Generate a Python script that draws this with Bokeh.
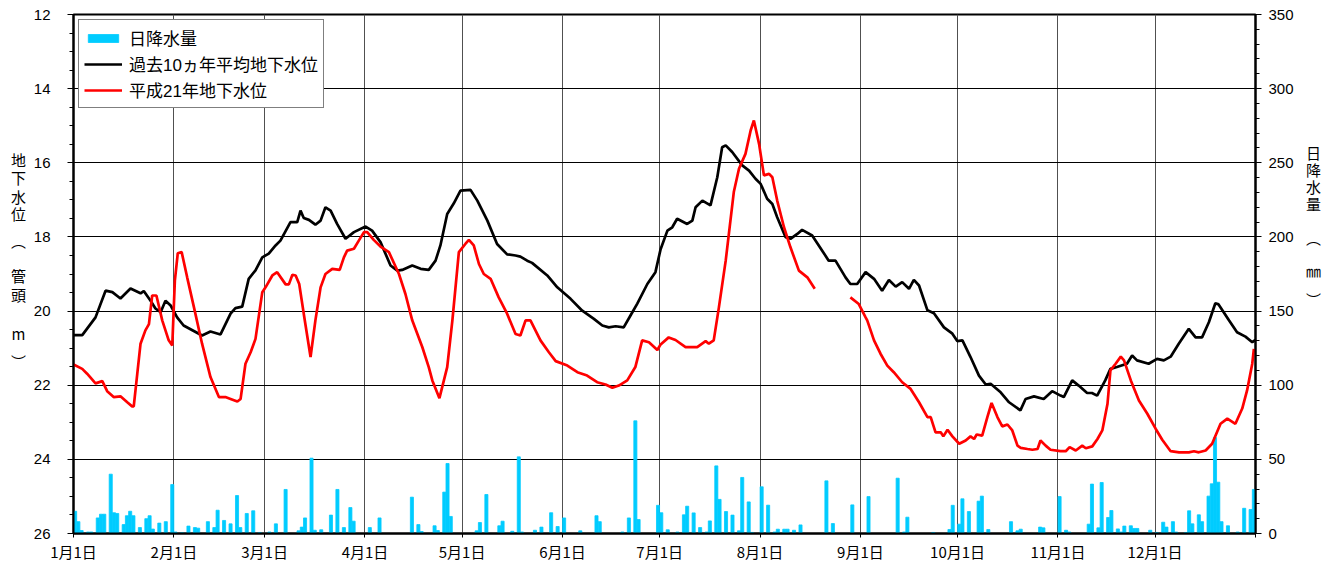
from bokeh.plotting import figure
from bokeh.layouts import row
from bokeh.models import (Range1d, LinearAxis, FixedTicker, Legend, LegendItem,
                          ColumnDataSource)
from bokeh.core.properties import value
from bokeh.embed import file_html
from bokeh.resources import INLINE

# ---------------- data ----------------
month_starts = [0, 31, 59, 90, 120, 151, 181, 212, 243, 273, 304, 334]
month_labels = ["1月1日", "2月1日", "3月1日", "4月1日", "5月1日", "6月1日",
                "7月1日", "8月1日", "9月1日", "10月1日", "11月1日", "12月1日"]

level_ticks = [12, 14, 16, 18, 20, 22, 24, 26]
rain_ticks = [0, 50, 100, 150, 200, 250, 300, 350]

left_title_chars = ["地", "下", "水", "位", "︵", "管", "頭", "m", "︶"]
right_title_chars = ["日", "降", "水", "量", "︵", "㎜", "︶"]

# daily rainfall (day index from Jan 1, mm)
rain_days = [0, 1, 2, 4, 5, 7, 8, 9, 11, 12, 13, 15, 16, 17, 18, 20, 22, 23, 24, 26,
             28, 30, 31, 33, 35, 37, 38, 41, 43, 44, 46, 48, 50, 51, 53, 55, 57, 60,
             62, 65, 69, 70, 71, 73, 74, 76, 79, 81, 83, 85, 86, 91, 94, 104, 106,
             107, 111, 112, 114, 115, 116, 124, 125, 127, 131, 132, 135, 137, 138,
             142, 144, 147, 149, 151, 156, 161, 162, 169, 171, 173, 174, 180, 181,
             183, 186, 188, 189, 191, 193, 195, 196, 198, 199, 201, 203, 205, 206,
             208, 209, 212, 214, 216, 217, 219, 220, 222, 224, 232, 234, 240, 245,
             254, 256, 257, 265, 270, 271, 273, 274, 276, 279, 280, 282, 289, 291,
             292, 298, 299, 304, 306, 307, 313, 314, 316, 317, 319, 320, 322, 323,
             324, 326, 327, 328, 332, 334, 336, 337, 339, 340, 343, 344, 345, 347,
             348, 350, 351, 352, 353, 354, 356, 359, 361, 363, 364]
rain_mm = [15, 8, 2, 1, 1, 10.5, 13, 13, 40, 14, 13.5, 6, 12, 15, 12, 4, 10, 12, 3, 7,
           8, 33, 1, 0.5, 5, 4, 3.6, 8, 4, 15.7, 8.8, 6.5, 25.6, 4, 13.5, 15.3, 0.7, 1,
           6.5, 29.7, 1.8, 4.3, 10.5, 50.8, 2.2, 2.5, 12.4, 29.7, 4, 17.5, 8.3, 4, 10.5, 24.5, 6,
           1.3, 5.2, 2, 27.9, 47.2, 11.5, 1.8, 7.4, 26.3, 5.2, 8.3, 1.5, 51.7, 1,
           2.2, 4.3, 14, 4.7, 10.5, 1.8, 12, 8, 1, 10.5, 76, 9.4, 19, 14,
           2.5, 1, 12.6, 18.4, 13.9, 4, 1, 8.5, 45.6, 23, 14.8, 12.4, 1.8, 37.8,
           21.3, 0.7, 31.5, 19.1, 1, 2.9, 2.9, 2.9, 2.2, 5.8, 35.5, 6.7, 19.3, 24.9,
           37.3, 1, 11, 0.7, 2.7, 19, 6.3, 23.4, 14.8, 21.8, 25.2, 2.7, 8, 1.8,
           2.9, 4.3, 3.8, 24.9, 2.2, 1, 6.3, 33.3, 3.8, 34.4, 10.8, 15.5, 3.1, 1,
           5, 5.2, 3.4, 3.4, 2.2, 0.7, 7.6, 4.3, 8, 1, 0.7, 15.3, 6.5, 12.6,
           8, 25.2, 33.5, 64.7, 34.6, 8, 5.2, 1, 17, 16.2, 29.7]

# 10-year average groundwater level (m below well head)
avg_days = [0, 2.7, 6.8, 9.9, 12, 14.5, 17.6, 20.7, 21.7, 23.8, 25.3, 26.9, 28.4, 30,
            32, 34, 37, 39.7, 42.3, 45.4, 48.5, 50, 52.1, 54.1, 56.2, 58.3, 60.3,
            62.4, 63.9, 67, 69.1, 70.1, 71.1, 72.7, 74.7, 76.3, 77.8, 79.4, 81.4,
            84, 86.6, 90.2, 92.2, 94.8, 97.9, 100, 101.5, 104.6, 107.2, 109.7,
            111.8, 113.3, 115.4, 117.4, 119.5, 122.6, 124.7, 127.8, 130.8, 133.9,
            136.5, 138, 140.1, 141.6, 146.3, 149.4, 153.5, 157.1, 160.7, 163.3,
            165.3, 167.4, 169.9, 172, 174.1, 177.2, 179.7, 181.3, 183.4, 184.9,
            186.4, 189.5, 191.1, 192.1, 194.2, 196.7, 198.8, 200.3, 201.4, 203.4,
            206.5, 208.6, 210.6, 212.2, 214.2, 215.8, 217.3, 219.9, 221.4, 223.5,
            225, 228.1, 231.2, 233.2, 235.3, 238.4, 239.9, 242, 244.6, 247.2,
            249.7, 251.8, 253.9, 255.9, 258, 259.5, 261.1, 263.7, 265.7, 268.8,
            271.4, 272.9, 274.5, 277, 279.6, 281.7, 283.2, 286.3, 288.9, 292.4,
            294, 296.6, 299.6, 302.2, 304.8, 305.8, 308.4, 310.4, 313, 314.5,
            316.1, 318.6, 320.2, 322.2, 325.3, 326.9, 328.4, 332, 334.6, 336.7,
            338.8, 341.3, 344.4, 346.5, 348.5, 350.6, 352.6, 353.6, 356.8, 359.3,
            361.9, 364, 365]
avg_level = [20.65, 20.65, 20.17, 19.45, 19.49, 19.66, 19.39, 19.52, 19.46, 19.72,
             19.93, 20.03, 19.72, 19.85, 20.17, 20.39, 20.53, 20.66, 20.55, 20.63,
             20.07, 19.92, 19.88, 19.13, 18.9, 18.55, 18.45, 18.23, 18.1, 17.6,
             17.6, 17.29, 17.49, 17.54, 17.67, 17.56, 17.2, 17.29, 17.65, 18.05,
             17.87, 17.72, 17.83, 18.14, 18.77, 18.91, 18.89, 18.77, 18.86, 18.89,
             18.64, 18.23, 17.38, 17.1, 16.75, 16.73, 17.02, 17.56, 18.19, 18.47,
             18.5, 18.53, 18.64, 18.7, 19.04, 19.36, 19.67, 19.99, 20.21, 20.39,
             20.44, 20.41, 20.44, 20.12, 19.8, 19.27, 18.95, 18.33, 17.83, 17.74,
             17.51, 17.65, 17.56, 17.2, 17.02, 17.15, 16.39, 15.58, 15.53, 15.71,
             16.07, 16.21, 16.43, 16.57, 16.97, 17.11, 17.47, 18.01, 18.05, 17.92,
             17.81, 17.96, 18.37, 18.64, 18.64, 19.09, 19.27, 19.27, 18.95, 19.13,
             19.45, 19.16, 19.34, 19.22, 19.4, 19.16, 19.31, 19.98, 20.06, 20.44,
             20.61, 20.81, 20.79, 21.24, 21.74, 21.98, 21.96, 22.19, 22.46, 22.68,
             22.37, 22.3, 22.37, 22.16, 22.28, 22.32, 21.87, 22.01, 22.21, 22.21,
             22.28, 21.87, 21.56, 21.51, 21.42, 21.2, 21.33, 21.42, 21.29, 21.33,
             21.23, 20.88, 20.48, 20.71, 20.71, 20.3, 19.79, 19.82, 20.25, 20.57,
             20.69, 20.84, 20.78]

# 2009 (Heisei 21) groundwater level; NaN = missing
h21_days = [0, 2.7, 4.2, 6.8, 8.9, 10.4, 12.4, 14.5, 16.6, 18.1, 18.6, 19.7, 20.7,
            22.2, 23.3, 24.3, 25.6, 27.4, 29.4, 30.5, 31.3, 32.2, 33.4, 35.1, 37.2,
            39.7, 42.3, 44.9, 46.9, 48.5, 50.6, 51.6, 53.1, 54.7, 56.2, 58.3, 59.3,
            61.4, 62.9, 65.5, 66.5, 67.6, 68.6, 69.7, 71.1, 73.2, 74.7, 76.3, 77.8,
            79.9, 82.2, 83.5, 84.5, 86.6, 88.1, 89.7, 90.7, 92.7, 94.8, 97.4, 100.5,
            102.5, 104.6, 107.7, 109.7, 110.8, 113, 115.4, 117, 119, 121, 122.1,
            123.6, 125.2, 126.7, 128.8, 131.3, 133.9, 136.5, 138, 139.6, 141.1,
            144.2, 146.8, 148.9, 152.5, 155.6, 158.6, 161.7, 164.3, 166.4, 168.4,
            171, 173.5, 175.6, 177.7, 180.3, 181.3, 183.8, 185.9, 189, 192.6, 195.2,
            196.2, 197.7, 199.3, 201.4, 203.9, 205.5, 207.5, 209.1, 210.1, 211.7,
            213.2, 214.8, 215.8, 217.3, 219.4, 221.4, 224, 226.6, 228.9, 234,
            239.9, 242.5, 244.6, 245.1, 247.2, 249.2, 251.3, 253.3, 255.9, 258.5,
            261.1, 263.7, 264.7, 266.2, 267.8, 268.6, 269.9, 271.4, 273.5, 275.5,
            277, 278.1, 278.9, 280.6, 282.2, 283.5, 285.3, 286.8, 288.4, 289.9,
            291.5, 292.5, 294.6, 296.1, 297.7, 298.6, 300.2, 301.7, 304.8, 306.4,
            307.6, 309.5, 311.5, 312.6, 314.6, 316.2, 317.7, 319.3, 320.2, 321.8,
            323.4, 324.4, 326.5, 329, 331.6, 334.2, 336.2, 338.8, 341.4, 344.4,
            346, 347.5, 349.6, 351.6, 354.2, 356.3, 358.8, 360.9, 362.4, 364, 364.5]
h21_level = [21.44, 21.56, 21.69, 21.95, 21.89, 22.16, 22.32, 22.3, 22.46, 22.57,
             22.57, 21.69, 20.88, 20.52, 20.35, 19.58, 19.58, 20.25, 20.79, 20.93,
             19.18, 18.44, 18.41, 19.09, 19.9, 20.88, 21.78, 22.32, 22.32, 22.37,
             22.44, 22.37, 21.42, 21.11, 20.75, 19.49, 19.36, 19.04, 18.95, 19.28,
             19.28, 19.02, 19.04, 19.27, 20.07, 21.24, 20.25, 19.36, 19.0, 18.86,
             18.89, 18.55, 18.37, 18.32, 18.1, 17.87, 17.87, 18.08, 18.26, 18.41,
             19.0, 19.54, 20.25, 20.97, 21.51, 21.87, 22.35, 21.51, 20.25, 18.41,
             18.19, 18.08, 18.23, 18.73, 19.0, 19.13, 19.63, 20.07, 20.62, 20.66,
             20.25, 20.25, 20.79, 21.11, 21.35, 21.47, 21.65, 21.74, 21.92, 21.98,
             22.07, 22.01, 21.87, 21.51, 20.79, 20.84, 21.05, 20.9, 20.71, 20.78,
             20.97, 20.97, 20.81, 20.88, 20.79, 19.9, 18.64, 16.79, 16.16, 15.76,
             15.13, 14.86, 15.49, 16.34, 16.3, 16.39, 17.02, 17.74, 18.28, 18.91,
             19.09, 19.4, float("nan"),
             19.63, 19.81, 20.17, 20.25, 20.79, 21.15, 21.47, 21.65, 21.92, 22.1,
             22.46, 22.86, 22.86, 23.27, 23.27, 23.38, 23.2, 23.38, 23.58, 23.49,
             23.38, 23.45, 23.33, 23.36, 22.86, 22.48, 22.86, 23.11, 23.06, 23.22,
             23.63, 23.69, 23.72, 23.74, 23.72, 23.49, 23.63, 23.74, 23.78, 23.78,
             23.67, 23.76, 23.63, 23.7, 23.65, 23.45, 23.22, 22.5, 21.6, 21.42,
             21.23, 21.33, 21.87, 22.41, 22.77, 23.18, 23.47, 23.78, 23.81, 23.81,
             23.78, 23.81, 23.76, 23.58, 23.04, 22.9, 23.04, 22.63, 22.14, 21.42,
             21.02]

# ---------------- figure ----------------
JP = "Noto Sans CJK JP"
NUM = "Liberation Sans"
H = 566
LEFT_W = 30
RIGHT_W = 27
MAIN_W = 1270

p = figure(width=MAIN_W, height=H, output_backend="svg", toolbar_location=None,
           x_range=Range1d(0, 365), y_range=Range1d(26, 12),
           min_border_left=43, min_border_right=45, min_border_top=14,
           min_border_bottom=33, background_fill_color="white",
           border_fill_color="white")
p.extra_y_ranges = {"rain": Range1d(0, 350)}

p.outline_line_color = "black"
p.outline_line_width = 2

# x axis
xax = p.xaxis[0]
xax.ticker = FixedTicker(ticks=month_starts + [365], minor_ticks=[])
overrides = {d: lab for d, lab in zip(month_starts, month_labels)}
overrides[365] = ""
xax.major_label_overrides = overrides
xax.major_label_text_font = JP
xax.major_label_text_font_size = "15px"
xax.major_label_text_color = "black"
xax.major_tick_out = 4
xax.major_tick_in = 0
xax.major_label_standoff = 3
xax.axis_line_width = 2
xax.axis_line_color = "black"

# left axis
yax = p.yaxis[0]
yax.ticker = FixedTicker(ticks=level_ticks,
                         minor_ticks=[12 + 0.5 * i for i in range(29)])
yax.major_label_text_font = NUM
yax.major_label_text_font_size = "15px"
yax.major_label_text_color = "black"
yax.major_tick_out = 6
yax.major_tick_in = 0
yax.minor_tick_out = 4
yax.minor_tick_in = 0
yax.major_label_standoff = 17
yax.axis_line_width = 2
yax.axis_line_color = "black"

# right axis
rax = LinearAxis(y_range_name="rain",
                 ticker=FixedTicker(ticks=rain_ticks,
                                    minor_ticks=list(range(0, 351, 10))))
rax.major_label_text_font = NUM
rax.major_label_text_font_size = "15px"
rax.major_label_text_color = "black"
rax.major_tick_out = 6
rax.major_tick_in = 0
rax.minor_tick_out = 4
rax.minor_tick_in = 0
rax.major_label_standoff = 7
rax.axis_line_width = 2
rax.axis_line_color = "black"
p.add_layout(rax, "right")

# grids
p.xgrid.ticker = FixedTicker(ticks=month_starts)
p.xgrid.grid_line_color = "#505050"
p.xgrid.grid_line_width = 1
p.ygrid.ticker = FixedTicker(ticks=level_ticks)
p.ygrid.grid_line_color = "black"
p.ygrid.grid_line_width = 1

# rainfall bars
rain_src = ColumnDataSource(dict(x=[d + 0.5 for d in rain_days], top=rain_mm))
bars = p.vbar(x="x", top="top", bottom=0, width=0.95, source=rain_src,
              y_range_name="rain", fill_color="#00CCFF", line_color="#00CCFF",
              line_width=0.8)

avg_line = p.line(avg_days, avg_level, line_color="black", line_width=2.7)
h21_line = p.line(h21_days, h21_level, line_color="#FF0000", line_width=2.7)

legend = Legend(items=[LegendItem(label="日降水量", renderers=[bars]),
                       LegendItem(label="過去10ヵ年平均地下水位", renderers=[avg_line]),
                       LegendItem(label="平成21年地下水位", renderers=[h21_line])],
                location="top_left")
legend.margin = 5
legend.padding = 5
legend.spacing = 1
legend.label_height = 19
legend.glyph_height = 10
legend.glyph_width = 38
legend.label_standoff = 7
legend.label_text_font = "'Liberation Sans', 'Noto Sans CJK JP'"
legend.label_text_font_size = "17px"
legend.label_text_line_height = 1.0
legend.label_text_color = "black"
legend.border_line_color = "black"
legend.border_line_width = 1.5
legend.background_fill_color = "white"
legend.background_fill_alpha = 1
p.add_layout(legend)


def side_panel(width, xpos, ys, chars):
    f = figure(width=width, height=H, output_backend="svg", toolbar_location=None,
               x_range=Range1d(0, width), y_range=Range1d(H, 0),
               x_axis_location=None, y_axis_location=None, min_border=0,
               background_fill_color="white", border_fill_color="white")
    f.outline_line_color = None
    f.grid.visible = False
    f.text(x=[xpos] * len(chars), y=ys, text=chars, text_font=value(JP),
           text_font_size="15px", text_color="black", text_align="center",
           text_baseline="middle")
    return f


left_panel = side_panel(LEFT_W, 18, [158, 178, 198, 217, 247, 285, 305, 348, 378],
                        left_title_chars)
right_panel = side_panel(RIGHT_W, 13, [150, 169, 188, 206, 243, 279, 311],
                         right_title_chars)

layout = row(left_panel, p, right_panel, spacing=0)
open("out.html", "w").write(file_html(layout, INLINE))
